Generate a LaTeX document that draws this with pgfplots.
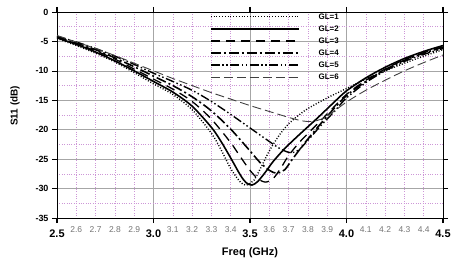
\documentclass[border=0pt]{standalone}
\usepackage{pgfplots}
\pgfplotsset{compat=1.18}
\usepackage{fontspec}
\setmainfont{Liberation Sans}
\definecolor{mgrid}{RGB}{205,150,215}
\newcommand{\MJ}[1]{{\fontsize{11}{11}\selectfont\bfseries #1}}
\newcommand{\MN}[1]{{\fontsize{8.5}{8.5}\selectfont\color{black!55}#1}}
\begin{document}
\begin{tikzpicture}
\begin{axis}[name=ax, scale only axis, width=386bp, height=206bp,
  xmin=2.5, xmax=4.5, ymin=-35, ymax=0,
  xtick={2.5,3.0,3.5,4.0,4.5},
  xticklabels={\MJ{2.5},\MJ{3.0},\MJ{3.5},\MJ{4.0},\MJ{4.5}},
  minor xtick={2.6,2.7,2.8,2.9,3.1,3.2,3.3,3.4,3.6,3.7,3.8,3.9,4.1,4.2,4.3,4.4},
  extra x ticks={2.6,2.7,2.8,2.9,3.1,3.2,3.3,3.4,3.6,3.7,3.8,3.9,4.1,4.2,4.3,4.4},
  extra x tick labels={\MN{2.6},\MN{2.7},\MN{2.8},\MN{2.9},\MN{3.1},\MN{3.2},\MN{3.3},\MN{3.4},\MN{3.6},\MN{3.7},\MN{3.8},\MN{3.9},\MN{4.1},\MN{4.2},\MN{4.3},\MN{4.4}},
  extra x tick style={major tick length=0pt, grid=none},
  ytick={-35,-30,-25,-20,-15,-10,-5,0},
  yticklabels={\bfseries -35,\bfseries -30,\bfseries -25,\bfseries -20,\bfseries -15,\bfseries -10,\bfseries -5,\bfseries 0},
  minor ytick={-32.5,-27.5,-22.5,-17.5,-12.5,-7.5,-2.5},
  grid=both,
  major grid style={gray!70, line width=0.6pt},
  minor grid style={mgrid, dotted, line width=0.5pt},
  tick align=outside,
  major tick length=5bp,
  minor tick length=0pt,
  x tick style={line width=1.4pt, black},
  y tick style={line width=0.7pt, black},
  axis line style={black, line width=0.8pt},
  xticklabel style={anchor=base, yshift=-14bp},
  yticklabel style={font=\fontsize{9}{9}\selectfont},
  every axis y label/.style={at={(axis description cs:-0.1088,0.544)}, rotate=90, anchor=center, font=\fontsize{10}{10}\selectfont\bfseries},
  every axis x label/.style={at={(axis description cs:0.5,-0.17)}, anchor=center, font=\fontsize{11}{11}\selectfont\bfseries},
  xlabel={Freq (GHz)},
  ylabel={S11 (dB)},
  legend style={at={(axis description cs:0.396,1)}, anchor=north west, draw=none, fill=none,
    font=\fontsize{8}{8}\selectfont\bfseries, row sep=3.1bp, column sep=18bp, inner sep=0pt,
    nodes={inner sep=1bp, text height=6bp, text depth=1bp}},
  legend cell align=left,
  legend image code/.code={\draw[#1] (0bp,0bp) -- (88bp,0bp);},
]
\addplot[black, line width=1.4pt, dash pattern=on 1pt off 1.8pt, smooth, tension=0.5] coordinates {
(2.5,-4.5) (2.6,-5.7) (2.7,-7.0) (2.8,-8.5) (2.9,-10.3) (3.0,-12.2) (3.1,-14.0) (3.2,-16.6) (3.3,-20.6) (3.35,-23.4) (3.4,-26.6) (3.45,-28.9) (3.48,-29.4) (3.52,-28.6) (3.56,-26.2) (3.6,-23.6) (3.65,-21.0) (3.7,-19.0) (3.75,-17.6) (3.8,-16.4) (3.9,-14.6) (4.0,-13.0) (4.1,-11.4) (4.2,-10.0) (4.3,-8.7) (4.4,-7.5) (4.5,-6.4)};
\addlegendentry{GL=1}
\addplot[black, line width=1.6pt, smooth, tension=0.5] coordinates {
(2.5,-4.4) (2.6,-5.5) (2.7,-6.8) (2.8,-8.3) (2.9,-10.0) (3.0,-11.8) (3.1,-13.6) (3.2,-16.0) (3.3,-19.6) (3.35,-22.0) (3.4,-24.8) (3.45,-27.7) (3.48,-29.0) (3.51,-29.4) (3.54,-28.8) (3.58,-27.2) (3.62,-25.4) (3.68,-23.2) (3.75,-21.0) (3.85,-18.0) (3.93,-15.5) (4.0,-13.4) (4.1,-11.2) (4.2,-9.4) (4.3,-7.9) (4.4,-6.7) (4.5,-5.7)};
\addlegendentry{GL=2}
\addplot[black, line width=1.3pt, dash pattern=on 9bp off 6bp, smooth, tension=0.5] coordinates {
(2.5,-4.3) (2.6,-5.4) (2.7,-6.6) (2.8,-8.0) (2.9,-9.7) (3.0,-11.4) (3.1,-13.1) (3.2,-15.2) (3.3,-18.2) (3.4,-22.2) (3.45,-24.6) (3.5,-26.9) (3.54,-28.3) (3.58,-28.9) (3.62,-28.3) (3.66,-26.5) (3.7,-24.4) (3.76,-22.0) (3.85,-19.0) (3.93,-16.3) (4.0,-14.0) (4.1,-11.6) (4.2,-9.7) (4.3,-8.1) (4.4,-6.9) (4.5,-5.9)};
\addlegendentry{GL=3}
\addplot[black, line width=1.6pt, dash pattern=on 10bp off 3bp on 2bp off 3bp, smooth, tension=0.5] coordinates {
(2.5,-4.2) (2.6,-5.3) (2.7,-6.4) (2.8,-7.8) (2.9,-9.3) (3.0,-10.9) (3.1,-12.5) (3.2,-14.4) (3.3,-16.8) (3.4,-19.9) (3.5,-23.6) (3.55,-25.5) (3.6,-26.9) (3.64,-27.4) (3.68,-26.8) (3.72,-25.0) (3.78,-22.4) (3.85,-19.6) (3.93,-16.6) (4.0,-14.2) (4.1,-11.8) (4.2,-9.8) (4.3,-8.2) (4.4,-7.0) (4.5,-6.0)};
\addlegendentry{GL=4}
\addplot[black, line width=1.4pt, dash pattern=on 9bp off 2.5bp on 1.5bp off 2.5bp on 1.5bp off 2.5bp, smooth, tension=0.5] coordinates {
(2.5,-4.1) (2.6,-5.1) (2.7,-6.2) (2.8,-7.5) (2.9,-8.9) (3.0,-10.4) (3.1,-11.8) (3.2,-13.3) (3.3,-15.2) (3.4,-17.4) (3.5,-19.7) (3.6,-22.0) (3.66,-23.3) (3.71,-23.9) (3.75,-23.5) (3.8,-21.8) (3.87,-19.2) (3.94,-16.8) (4.0,-14.6) (4.1,-12.0) (4.2,-10.0) (4.3,-8.4) (4.4,-7.2) (4.5,-6.2)};
\addlegendentry{GL=5}
\addplot[black!75, line width=0.9pt, dash pattern=on 9bp off 4bp, smooth, tension=0.5] coordinates {
(2.5,-4.0) (2.6,-5.1) (2.7,-6.2) (2.8,-7.4) (2.9,-8.7) (3.0,-10.0) (3.1,-11.3) (3.2,-12.5) (3.3,-13.7) (3.4,-14.8) (3.5,-15.9) (3.6,-16.9) (3.7,-17.9) (3.77,-18.5) (3.82,-18.6) (3.87,-18.2) (3.93,-17.0) (4.0,-15.3) (4.1,-13.3) (4.2,-11.6) (4.3,-10.0) (4.4,-8.6) (4.5,-7.3)};
\addlegendentry{GL=6}
\end{axis}
\pgfresetboundingbox
\path[use as bounding box] ([xshift=-57bp,yshift=-46bp]ax.south west) rectangle ([xshift=25bp,yshift=12bp]ax.north east);
\end{tikzpicture}
\end{document}
